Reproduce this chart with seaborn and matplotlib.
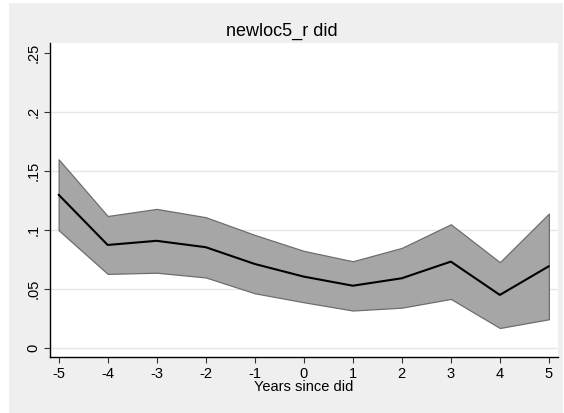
import matplotlib
matplotlib.use("Agg")
import matplotlib.pyplot as plt
import matplotlib.patches as mpatches
import seaborn as sns
import pandas as pd

# Event-study estimates with 95% confidence bounds
years = [-5, -4, -3, -2, -1, 0, 1, 2, 3, 4, 5]
estimate = [0.130, 0.0875, 0.091, 0.0856, 0.0714, 0.0607, 0.053, 0.0593, 0.0734, 0.0452, 0.0695]
upper = [0.160, 0.112, 0.118, 0.111, 0.096, 0.0825, 0.0737, 0.085, 0.105, 0.0729, 0.114]
lower = [0.100, 0.063, 0.064, 0.060, 0.0466, 0.039, 0.032, 0.0344, 0.0418, 0.0172, 0.0246]
y_ticks = [0, 0.05, 0.1, 0.15, 0.2, 0.25]
y_tick_labels = ["0", ".05", ".1", ".15", ".2", ".25"]

df = pd.DataFrame({"year": years, "est": estimate, "lo": lower, "hi": upper})

sns.set_style("white")
plt.rcParams["font.family"] = ["Liberation Sans", "DejaVu Sans"]
plt.rcParams["text.color"] = "black"
plt.rcParams["axes.labelcolor"] = "black"

fig = plt.figure(figsize=(5.64, 4.13), dpi=100)
fig.patch.set_facecolor("white")
# light gray graph region with a thin white outer margin
fig.patches.append(mpatches.Rectangle((9 / 564, 0), 1 - 9 / 564 - 1 / 564, 1 - 3 / 413,
                                      transform=fig.transFigure, facecolor="#efefef",
                                      edgecolor="none", zorder=-10))

ax = fig.add_axes([50.3 / 564, (413 - 357.3) / 413, (557.7 - 50.3) / 564, (357.3 - 42.7) / 413])
ax.set_facecolor("white")

# horizontal grid lines (none at the top label)
for yv in y_ticks[:-1]:
    ax.axhline(yv, color="#e6e6e6", lw=1.0, zorder=0)

ax.fill_between(df["year"], df["lo"], df["hi"], facecolor="#a6a6a6",
                edgecolor="#6e6e6e", linewidth=0.9, zorder=2)
sns.lineplot(data=df, x="year", y="est", ax=ax, color="black", linewidth=1.5,
             zorder=3, legend=False)

ax.set_xlim(-5.17, 5.18)
ax.set_ylim(-0.0076, 0.2587)
ax.set_xticks(years)
ax.set_xticklabels([str(v) for v in years])
ax.set_yticks(y_ticks)
ax.set_yticklabels(y_tick_labels, rotation=90, va="center")

for side in ["top", "right"]:
    ax.spines[side].set_visible(False)
for side in ["left", "bottom"]:
    ax.spines[side].set_color("black")
    ax.spines[side].set_linewidth(1.0)

ax.tick_params(axis="both", direction="out", length=4, width=0.8, color="#333333",
               labelsize=10.5, labelcolor="black", pad=3,
               bottom=True, left=True)
ax.set_xlabel("Years since did", fontsize=10.5, labelpad=-1)
ax.set_ylabel("")

fig.text(0.5, 1 - 31 / 413, "newloc5_r did", ha="center", va="center", fontsize=13)

fig.savefig("out.png", dpi=100)
